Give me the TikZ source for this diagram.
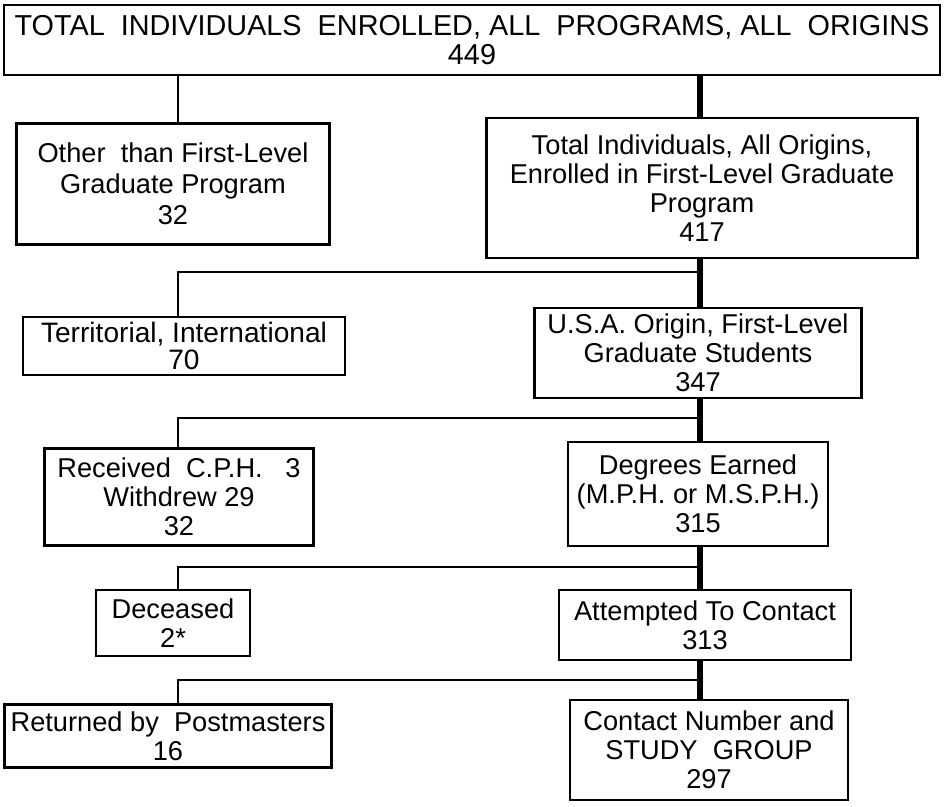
\documentclass[tikz,border=0pt]{standalone}
\usepackage{fontspec}
\setmainfont{Liberation Sans}
\usetikzlibrary{calc}

\begin{document}
\begin{tikzpicture}[x=0.02cm, y=-0.02cm,
  every node/.style={font=\fontsize{15.5}{16.5}\selectfont},
  box/.style={draw, line width=1.3pt, align=center, inner sep=0pt},
  trunk/.style={line width=3pt},
  branch/.style={line width=1.2pt}]
  \useasboundingbox (0,0) rectangle (944,806);

  % Top total
  \node[box, minimum width=18.72cm, minimum height=1.4cm,
        font=\fontsize{16.4}{16.5}\selectfont] (top) at (472,40)
    {TOTAL\ \ INDIVIDUALS\ \ ENROLLED,\ ALL\ \ PROGRAMS,\ ALL\ \ ORIGINS\\449};

  % Right column (main line)
  \node[box, minimum width=8.62cm, minimum height=2.8cm] (tot) at (702,188)
    {Total Individuals, All Origins,\\Enrolled in First-Level Graduate\\Program\\417};
  \node[box, minimum width=6.54cm, minimum height=1.8cm] (usa) at (698,353)
    {U.S.A. Origin, First-Level\\Graduate Students\\347};
  \node[box, minimum width=5.2cm, minimum height=2.08cm] (deg) at (698,494)
    {Degrees Earned\\(M.P.H. or M.S.P.H.)\\315};
  \node[box, minimum width=5.84cm, minimum height=1.4cm] (att) at (705,625)
    {Attempted To Contact\\313};
  \node[box, minimum width=5.56cm, minimum height=2cm] (con) at (709,750)
    {Contact Number and\\STUDY\ \ GROUP\\297};

  % Left column (drop-outs)
  \node[box, minimum width=6.26cm, minimum height=2.42cm,
        font=\fontsize{15.5}{17.5}\selectfont] (oth) at (173,184)
    {Other\ \ than First-Level\\Graduate Program\\32};
  \node[box, minimum width=6.44cm, minimum height=1.16cm,
        font=\fontsize{16}{15}\selectfont] (ter) at (184,346)
    {Territorial, International\\70};
  \node[box, minimum width=5.38cm, minimum height=1.94cm] (rec) at (179,497)
    {Received\ \ C.P.H.\ \ \ 3\\Withdrew 29\\32};
  \node[box, minimum width=3.08cm, minimum height=1.32cm] (dec) at (173,623)
    {Deceased\\2*};
  \node[box, minimum width=6.54cm, minimum height=1.26cm] (ret) at (168,736)
    {Returned by\ \ Postmasters\\16};

  % Branch points on the main line
  \coordinate (b1) at (700,272);
  \coordinate (b2) at (700,418);
  \coordinate (b3) at (700,567);
  \coordinate (b4) at (700,680);

  % Connectors
  \draw[trunk] (top.south -| 700,0) -- (tot.north -| 700,0);
  \draw[trunk] (tot.south -| 700,0) -- (usa.north -| 700,0);
  \draw[trunk] (usa.south -| 700,0) -- (deg.north -| 700,0);
  \draw[trunk] (deg.south -| 700,0) -- (att.north -| 700,0);
  \draw[trunk] (att.south -| 700,0) -- (con.north -| 700,0);

  \draw[branch] (top.south -| 178,0) -- (oth.north -| 178,0);
  \draw[branch] (b1) -| (ter.north -| 178,0);
  \draw[branch] (b2) -| (rec.north -| 178,0);
  \draw[branch] (b3) -| (dec.north -| 178,0);
  \draw[branch] (b4) -| (ret.north -| 178,0);
\end{tikzpicture}
\end{document}
